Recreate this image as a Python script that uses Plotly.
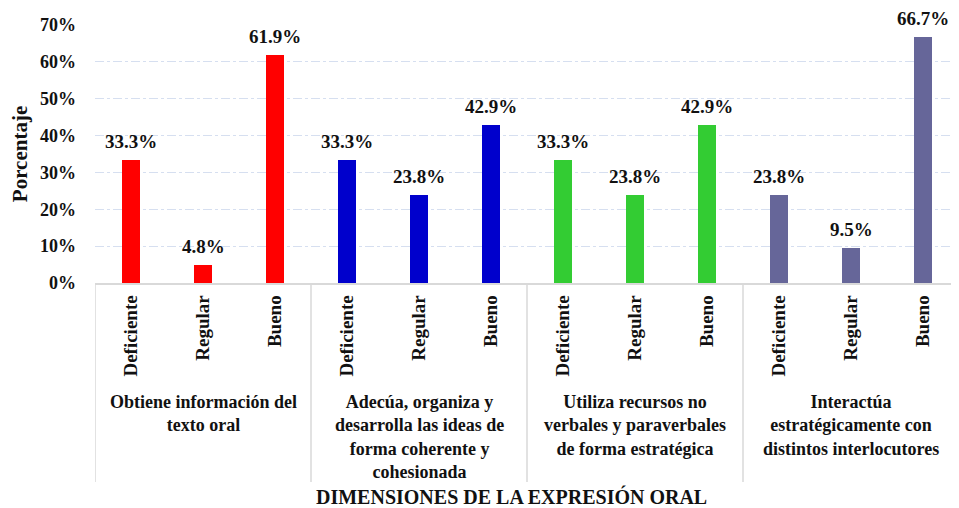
"""Bar chart: dimensiones de la expresión oral, porcentaje por nivel."""
import plotly.graph_objects as go

levels = ["Deficiente", "Regular", "Bueno"]
groups = [
    "Obtiene información del<br>texto oral",
    "Adecúa, organiza y<br>desarrolla las ideas de<br>forma coherente y<br>cohesionada",
    "Utiliza recursos no<br>verbales y paraverbales<br>de forma estratégica",
    "Interactúa<br>estratégicamente con<br>distintos interlocutores",
]
values = [
    [33.3, 4.8, 61.9],
    [33.3, 23.8, 42.9],
    [33.3, 23.8, 42.9],
    [23.8, 9.5, 66.7],
]
colors = ["#FF0000", "#0000CC", "#33CC33", "#666699"]
y_ticks = [0, 10, 20, 30, 40, 50, 60, 70]

FONT = "Liberation Serif"

# the page body has an 8px margin, so the figure is shrunk by that much
OFF = 8
W, H = 959 - OFF, 508 - OFF
L, T, B = 95 - OFF, 25 - OFF, 225
PH = H - T - B
Y0 = 283  # pixel row of the 0% line in the target


def py(pix):
    """pixel row in the window -> paper y"""
    return (Y0 - pix) / PH


fig = go.Figure()
xs_all, labels_all = [], []
for g, (name, vals, col) in enumerate(zip(groups, values, colors)):
    xs = [g * 3 + i for i in range(len(levels))]
    xs_all += xs
    labels_all += levels
    fig.add_trace(go.Bar(
        x=xs, y=vals, marker=dict(color=col, line=dict(width=0)),
        width=0.25, showlegend=False, hoverinfo="y",
    ))
    for x, v in zip(xs, vals):
        fig.add_annotation(
            x=x, y=v, text=f"<b>{v:.1f}%</b>", showarrow=False,
            yanchor="bottom", yshift=6,
            font=dict(family=FONT, size=19, color="#111"),
        )
    fig.add_annotation(
        x=g * 3 + 1, xref="x", y=py(390), yref="paper",
        text=f"<b>{name}</b>", showarrow=False, yanchor="top",
        font=dict(family=FONT, size=18, color="#111"),
    )

# separators between groups
for g in range(len(groups) + 1):
    fig.add_shape(type="line", xref="x", yref="paper", x0=g * 3 - 0.5, x1=g * 3 - 0.5,
                  y0=0, y1=py(482), line=dict(color="#D9D9D9", width=1.5))

fig.add_annotation(
    x=(511 - 95) / (959 - 95), xref="paper", y=py(496), yref="paper",
    text="<b>DIMENSIONES DE LA EXPRESIÓN ORAL</b>", showarrow=False,
    yanchor="middle", font=dict(family=FONT, size=20, color="#111"),
)

fig.update_layout(
    width=W, height=H, margin=dict(l=L, r=0, t=T, b=B, autoexpand=False),
    plot_bgcolor="white", paper_bgcolor="white",
    font=dict(family=FONT, color="#111"), bargap=0,
)
fig.update_xaxes(
    range=[-0.5, 11.5], tickmode="array", tickvals=xs_all,
    ticktext=[f"<b>{t}</b>" for t in labels_all], tickangle=-90,
    tickfont=dict(family=FONT, size=19), ticklabelstandoff=3, showgrid=False,
    showline=True, linecolor="#D9D9D9", linewidth=1.5, ticks="", zeroline=False,
    automargin=False,
)
fig.update_yaxes(
    range=[0, 70], tickmode="array", tickvals=y_ticks,
    ticktext=[f"<b>{v}%</b>" for v in y_ticks],
    tickfont=dict(family=FONT, size=18), ticklabelstandoff=18,
    showgrid=True, gridcolor="#D6DFF0", griddash="dashdot", gridwidth=1,
    zeroline=False, showline=False, automargin=False,
    title=dict(text="<b>Porcentaje</b>", font=dict(family=FONT, size=21), standoff=10),
)

fig.write_html("out.html")
